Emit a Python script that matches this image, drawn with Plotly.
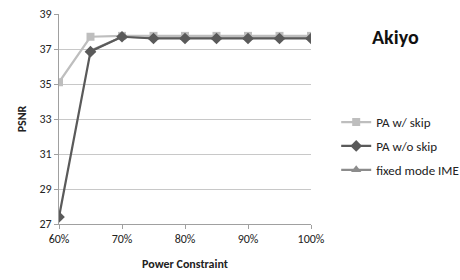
import plotly.graph_objects as go

x = [0.60, 0.65, 0.70, 0.75, 0.80, 0.85, 0.90, 0.95, 1.00]
pa_skip = [35.1, 37.7, 37.75, 37.75, 37.75, 37.75, 37.75, 37.75, 37.75]
pa_noskip = [27.4, 36.85, 37.7, 37.6, 37.6, 37.6, 37.6, 37.6, 37.6]
fixed_ime = [None, 36.9, 37.7, 37.65, 37.65, 37.65, 37.65, 37.65, 37.65]
names = ["PA w/ skip", "PA w/o skip", "fixed mode IME"]
y_ticks = [27, 29, 31, 33, 35, 37, 39]
x_ticks = [0.6, 0.7, 0.8, 0.9, 1.0]

FONT = "Carlito, Lato, 'Open Sans', sans-serif"
fig = go.Figure()
fig.add_trace(go.Scatter(x=x, y=fixed_ime, name=names[2], mode="lines+markers",
                         legendgroup="c", legendrank=3,
                         line=dict(color="#8C8C8C", width=2.2),
                         marker=dict(symbol="triangle-up", size=9, color="#8C8C8C")))
fig.add_trace(go.Scatter(x=x, y=pa_skip, name=names[0], mode="lines+markers",
                         legendgroup="a", legendrank=1,
                         line=dict(color="#BEBEBE", width=2.2),
                         marker=dict(symbol="square", size=8, color="#BEBEBE")))
fig.add_trace(go.Scatter(x=x, y=pa_noskip, name=names[1], mode="lines+markers",
                         legendgroup="b", legendrank=2,
                         line=dict(color="#5A5A5A", width=2.2),
                         marker=dict(symbol="diamond", size=9, color="#5A5A5A")))

fig.update_layout(
    width=460, height=280,
    margin=dict(l=59, r=149, t=14, b=56, autoexpand=False),
    paper_bgcolor="white", plot_bgcolor="white",
    font=dict(family=FONT, size=12, color="#222"),
    showlegend=True,
    legend=dict(x=1.10, y=0.371, xanchor="left", yanchor="middle",
                font=dict(size=13, color="#222"), itemwidth=30,
                tracegroupgap=4, bgcolor="rgba(0,0,0,0)"),
    xaxis=dict(range=[0.60, 1.00], tickvals=x_ticks, automargin=False,
               tickformat=".0%", showgrid=False, zeroline=False,
               showline=True, linecolor="#A0A0A0", linewidth=1,
               ticks="outside", ticklen=4, tickcolor="#A0A0A0",
               title=dict(text="<b>Power Constraint</b>", font=dict(size=12), standoff=14)),
    yaxis=dict(range=[27, 39], tickvals=y_ticks, automargin=False,
               showgrid=True, gridcolor="#C8C8C8",
               zeroline=False, showline=True, linecolor="#A0A0A0", linewidth=1,
               ticks="outside", ticklen=4, tickcolor="#A0A0A0",
               title=dict(text="<b>PSNR</b>", font=dict(size=12), standoff=10)),
)
plot_w = 460 - 59 - 149
plot_h = 280 - 14 - 56
fig.add_annotation(text="<b>Akiyo</b>", x=(395 - 59) / plot_w, y=(280 - 56 - 37) / plot_h,
                   xref="paper", yref="paper", xanchor="center", yanchor="middle",
                   showarrow=False, font=dict(size=20, color="#111"))
fig.write_html("out.html")
